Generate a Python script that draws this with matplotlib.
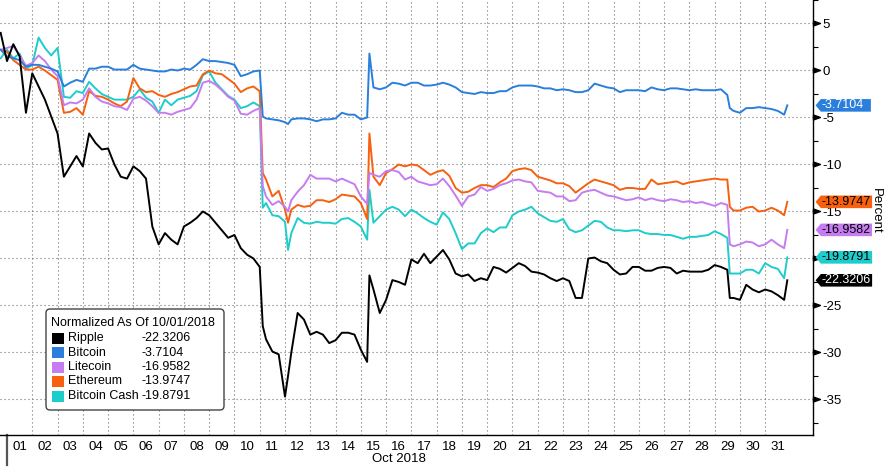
import numpy as np
import matplotlib
matplotlib.use("Agg")
import matplotlib.pyplot as plt
from matplotlib.path import Path
import matplotlib.transforms as mtransforms
import matplotlib.patches as mpatches

plt.rcParams['font.family'] = ['Liberation Sans', 'DejaVu Sans']
plt.rcParams['axes.unicode_minus'] = False

# ---------------- data (percent change, normalized as of 10/01/2018) ----------------
# time in days since 2018-10-01 00:00 : 6-hour grid plus a few event timestamps
EXTRA_TIMES = [10.12, 11.12, 14.34, 28.6, 30.875]
times = sorted(list(np.round(np.arange(-0.25, 30.76, 0.25), 3)) + EXTRA_TIMES)

series_names = ["Ripple", "Bitcoin", "Litecoin", "Ethereum", "Bitcoin Cash"]

ripple = [4.0,
    1.0, 2.8, 1.5, -4.5,
    -0.3, -1.7, -3.1, -4.9,
    -6.7, -11.3, -10.2, -9.1,
    -10.2, -6.7, -7.7, -8.4,
    -8.3, -10.0, -11.3, -11.5,
    -10.2, -10.7, -11.5, -16.6,
    -18.5, -17.3, -18.0, -18.5,
    -16.6, -16.2, -15.7, -15.0,
    -15.4, -16.2, -17.0, -17.8,
    -17.5, -18.9, -19.6, -20.0,
    -20.9, -27.2, -28.6, -29.9, -30.2,
    -34.7, -32.5, -30.0, -25.8, -26.5,
    -28.1, -27.8, -28.1, -29.0,
    -28.7, -27.9, -27.9, -28.1,
    -29.7, -31.0, -21.8, -23.3, -25.8,
    -24.4, -22.3, -22.5, -22.8,
    -20.1, -20.5, -19.5, -20.5,
    -19.8, -19.1, -20.1, -21.6,
    -21.9, -21.7, -22.4, -22.1,
    -22.3, -20.9, -21.1, -21.5,
    -21.0, -20.5, -20.8, -21.4,
    -21.5, -21.7, -22.1, -22.4,
    -22.1, -22.4, -24.2, -24.2,
    -20.0, -19.9, -20.3, -20.5,
    -21.2, -21.7, -21.6, -20.9,
    -20.9, -21.3, -21.3, -21.0,
    -20.9, -21.0, -21.6, -21.3,
    -21.4, -21.4, -21.4, -21.2,
    -20.7, -20.9, -21.2, -24.2, -24.2,
    -24.4, -22.8, -23.3, -23.6,
    -23.3, -23.5, -23.9, -24.4, -22.3206]

bitcoin = [2.2,
    1.5, 1.3, 1.1, 0.4,
    0.6, 0.6, 0.4, 0.2,
    -0.1, -1.7, -1.3, -1.0,
    -1.2, 0.2, 0.2, 0.4,
    0.4, 0.1, 0.1, 0.1,
    0.6, 0.2, 0.1, 0.0,
    -0.1, -0.1, 0.1, 0.0,
    0.2, 0.1, 0.6, 1.2,
    1.0, 1.0, 0.9, 0.8,
    0.6, -0.6, -0.4, -0.1,
    0.0, -4.9, -5.1, -5.2, -5.3,
    -5.5, -5.7, -5.2, -5.1, -5.1,
    -5.2, -5.4, -5.2, -5.2,
    -5.1, -4.5, -4.7, -4.7,
    -5.2, -5.0, 1.8, -1.8, -2.0,
    -1.8, -1.3, -1.4, -1.6,
    -1.3, -1.3, -1.6, -1.6,
    -1.5, -1.3, -1.5, -1.8,
    -2.3, -2.4, -2.5, -2.3,
    -2.4, -2.4, -2.2, -2.2,
    -1.8, -1.6, -1.6, -1.6,
    -1.7, -1.9, -1.9, -2.1,
    -2.0, -2.1, -2.3, -2.3,
    -2.1, -1.4, -1.6, -1.8,
    -1.9, -2.3, -2.1, -2.1,
    -2.1, -2.2, -1.8, -2.0,
    -2.1, -1.9, -1.9, -2.0,
    -2.1, -2.0, -2.1, -2.1,
    -2.1, -2.0, -2.6, -4.0, -4.3,
    -4.5, -4.0, -4.0, -3.9,
    -4.0, -4.1, -4.3, -4.7, -3.7104]

litecoin = [2.2,
    2.4, 2.6, 1.6, 0.5,
    0.8, 1.6, 1.0, 0.1,
    -0.6, -3.7, -3.4, -3.5,
    -3.1, -1.9, -2.8, -3.3,
    -3.5, -3.8, -3.9, -4.2,
    -3.0, -2.8, -3.2, -3.8,
    -4.5, -4.5, -4.7, -4.4,
    -4.2, -4.0, -3.1, -1.3,
    -1.1, -1.5, -2.1, -2.8,
    -3.2, -4.6, -4.7, -4.3,
    -4.0, -12.3, -13.4, -14.3, -13.9,
    -14.5, -15.0, -13.8, -12.9, -12.2,
    -11.1, -11.5, -11.5, -11.5,
    -11.8, -11.5, -11.8, -12.1,
    -13.4, -14.2, -10.9, -11.1, -11.3,
    -10.7, -10.6, -10.8, -11.6,
    -11.3, -11.8, -12.0, -12.2,
    -12.1, -11.5, -12.3, -13.3,
    -14.4, -13.4, -13.2, -12.4,
    -12.8, -12.6, -12.2, -12.0,
    -11.7, -11.6, -11.8, -11.9,
    -12.8, -12.9, -13.0, -13.4,
    -13.4, -13.9, -13.8, -13.0,
    -12.8, -12.7, -13.0, -13.3,
    -13.4, -13.6, -13.8, -13.7,
    -13.5, -13.8, -13.6, -13.8,
    -13.9, -13.7, -13.8, -14.0,
    -13.9, -14.1, -14.0, -14.2,
    -14.4, -14.1, -14.3, -18.5, -18.7,
    -18.5, -18.2, -18.3, -18.7,
    -18.5, -18.0, -18.5, -18.9, -16.9582]

ethereum = [2.2,
    2.0, 1.1, 0.6, 0.1,
    0.1, 0.4, 0.0, -0.5,
    -1.0, -4.5, -4.4, -4.0,
    -4.7, -2.2, -2.7, -2.8,
    -3.1, -3.5, -3.8, -3.3,
    -0.8, -1.9, -2.3, -2.2,
    -2.6, -2.8, -2.5, -2.3,
    -2.0, -1.7, -1.6, -0.4,
    0.0, -0.3, -0.4, -0.9,
    -1.4, -2.3, -1.9, -1.7,
    -2.2, -10.9, -11.6, -13.4, -12.8,
    -14.8, -16.2, -14.8, -14.3, -14.5,
    -14.4, -13.8, -13.8, -14.0,
    -13.7, -13.2, -13.3, -13.4,
    -14.1, -15.8, -6.7, -11.3, -12.2,
    -10.9, -10.5, -10.0, -10.2,
    -10.0, -10.1, -10.6, -11.1,
    -10.8, -10.6, -11.2, -12.5,
    -13.0, -12.9, -12.5, -12.2,
    -12.2, -12.4, -11.9, -11.5,
    -10.7, -10.5, -10.4, -10.6,
    -11.3, -11.5, -11.7, -12.0,
    -12.0, -12.3, -13.0, -12.5,
    -12.0, -11.6, -11.8, -12.0,
    -12.2, -12.7, -12.5, -12.5,
    -12.6, -12.6, -11.6, -12.1,
    -12.0, -11.9, -11.8, -12.1,
    -11.9, -11.8, -11.7, -11.6,
    -11.5, -11.6, -11.6, -14.5, -14.9,
    -14.9, -14.6, -14.5, -15.0,
    -14.9, -14.6, -14.9, -15.4, -13.9747]

bitcoin_cash = [1.3,
    2.2, 1.3, 1.8, 0.2,
    0.6, 3.5, 2.4, 1.6,
    2.4, -2.8, -2.9, -2.2,
    -2.4, -1.2, -1.9, -2.5,
    -2.8, -3.1, -3.1, -3.1,
    -2.8, -2.0, -2.9, -3.3,
    -4.5, -3.1, -3.7, -3.1,
    -2.9, -2.7, -2.2, -0.5,
    -0.1, -1.3, -2.0, -2.7,
    -3.1, -4.0, -3.8, -3.4,
    -3.8, -14.6, -14.1, -15.4, -15.5,
    -16.1, -19.1, -17.3, -15.7, -16.2,
    -16.3, -16.1, -16.2, -16.2,
    -16.3, -15.8, -15.7, -16.1,
    -16.6, -18.0, -12.7, -16.2, -15.5,
    -14.8, -14.5, -14.8, -15.5,
    -14.8, -15.2, -15.7, -16.1,
    -16.4, -15.1, -15.8, -17.3,
    -19.0, -18.4, -18.4, -17.3,
    -16.8, -17.2, -16.7, -16.7,
    -15.4, -15.0, -14.8, -14.5,
    -15.2, -15.6, -16.0, -16.1,
    -15.8, -16.9, -17.2, -17.0,
    -16.5, -16.0, -16.1, -16.7,
    -17.0, -17.0, -17.1, -17.0,
    -17.0, -17.3, -17.4, -17.4,
    -17.5, -17.5, -17.7, -17.9,
    -17.7, -17.7, -17.6, -17.5,
    -17.1, -17.4, -17.8, -21.6, -21.6,
    -21.6, -21.2, -21.2, -21.6,
    -20.5, -20.9, -21.1, -22.1, -19.8791]

day_labels = ["%02d" % d for d in range(1, 32)]
month_label = "Oct 2018"
legend_title = "Normalized As Of 10/01/2018"

values = [ripple, bitcoin, litecoin, ethereum, bitcoin_cash]
colors = ["#000000", "#2a7fdc", "#c67cf0", "#f6600f", "#1fcccc"]
box_text_colors = ["white", "white", "black", "black", "black"]
for v in values:
    assert len(v) == len(times), (len(v), len(times))

FS = 9

# ---------------- figure ----------------
W, H = 890, 470
fig = plt.figure(figsize=(W / 100, H / 100), dpi=100)
AX_R, AX_B = 812.7, 435.0
ax = fig.add_axes([0, (H - AX_B) / H, AX_R / W, AX_B / H])

t = np.array(times)
for name, v, c in reversed(list(zip(series_names, values, colors))):
    ax.plot(t, v, color=c, lw=1.4, solid_joinstyle="round", zorder=3)

ax.set_xlim(-0.277, 31.88)
ax.set_ylim(-38.78, 7.5)

# y axis on the right
ax.yaxis.tick_right()
ax.set_yticks(np.arange(-35, 6, 5))
ax.set_yticks(np.arange(-37.5, 7.6, 5), minor=True)
ax.tick_params(axis="y", which="major", length=0, pad=6.8, labelsize=FS + 0.5)
ax.tick_params(axis="y", which="minor", length=3.5, width=0.8, direction="out")

# triangle tick markers on right axis
tri = Path([(0, -0.36), (0, 0.36), (1, 0), (0, -0.36)], closed=True)
blend_y = mtransforms.blended_transform_factory(ax.transAxes, ax.transData)
yt = np.arange(-35, 6, 5)
ax.plot(np.ones(len(yt)), yt, ls="none", marker=tri, ms=10, color="black",
        transform=blend_y, clip_on=False, zorder=6)

# x axis
ax.set_xticks(np.arange(1, 31))
ax.set_xticklabels([])
ax.set_xticks(np.arange(0, 31) + 0.5, minor=True)
ax.set_xticklabels(day_labels, minor=True)
ax.tick_params(axis="x", which="both", length=0)
ax.tick_params(axis="x", which="minor", pad=4, labelsize=FS + 0.5)

ax.grid(True, which="major", axis="both", ls=(0, (1, 2.6)), color="#6f6f6f", lw=0.8, zorder=1)

for s in ["left", "top"]:
    ax.spines[s].set_visible(False)
for s in ["right", "bottom"]:
    ax.spines[s].set_color("black")
    ax.spines[s].set_linewidth(1.0)

blend_x = mtransforms.blended_transform_factory(ax.transData, ax.transAxes)
ax.plot([0, 0], [0, -0.07], color="#555555", lw=1.6, transform=blend_x, clip_on=False)
ax.text(15.5, -0.056, month_label, transform=blend_x, ha="center", va="center", fontsize=FS + 0.5)

ax.set_ylabel("Percent", rotation=270, fontsize=FS + 0.5, va="center")
ax.yaxis.set_label_position("right")
ax.yaxis.set_label_coords(882 / AX_R, 1 - 211 / AX_B)


# value tags on the right axis (fixed-width tag with a left-pointing tip)
def tag_box(x0, y0, width, height, mutation_size):
    left = x0 - 1.0
    right = left + max(width + 2.0, 4.0 * mutation_size)
    bot, top = y0 - 0.3, y0 + height + 0.3
    tip = 0.42 * (top - bot)
    verts = [(left - tip, (bot + top) / 2), (left, top), (right, top),
             (right, bot), (left, bot), (left - tip, (bot + top) / 2)]
    return Path(verts, closed=True)


for v, c, tc in zip(values, colors, box_text_colors):
    last = v[-1]
    ax.annotate("%.4f" % last, xy=(1, last), xycoords=blend_y,
                xytext=(6.6, 0), textcoords="offset points",
                ha="left", va="center", fontsize=FS, color=tc,
                bbox=dict(boxstyle=tag_box, fc=c, ec="none"),
                annotation_clip=False, zorder=7)


# legend (custom, positioned in axes fraction)
def fx(px):
    return px / AX_R


def fy(py):
    return 1 - py / AX_B


legend_box = mpatches.FancyBboxPatch((fx(46), fy(410)), fx(224) - fx(46), fy(309) - fy(410),
                                     boxstyle="round,pad=0,rounding_size=0.005",
                                     mutation_aspect=AX_R / AX_B,
                                     transform=ax.transAxes, fc="white", ec="#444444",
                                     lw=1.0, zorder=8)
ax.add_patch(legend_box)
ax.text(fx(51), fy(323), legend_title, transform=ax.transAxes, ha="left", va="center",
        fontsize=FS, zorder=9)
row_y = [338, 352.5, 367, 381.5, 396]
for yy, name, v, c in zip(row_y, series_names, values, colors):
    ax.add_patch(mpatches.Rectangle((fx(52), fy(yy + 5.5)), fx(64) - fx(52), fy(yy - 5.5) - fy(yy + 5.5),
                                    transform=ax.transAxes, fc=c, ec="none", zorder=9))
    ax.text(fx(68), fy(yy), name, transform=ax.transAxes, ha="left", va="center",
            fontsize=FS, zorder=9)
    ax.text(fx(141), fy(yy), "%.4f" % v[-1], transform=ax.transAxes, ha="left", va="center",
            fontsize=FS, zorder=9)

fig.savefig("out.png", dpi=100)
